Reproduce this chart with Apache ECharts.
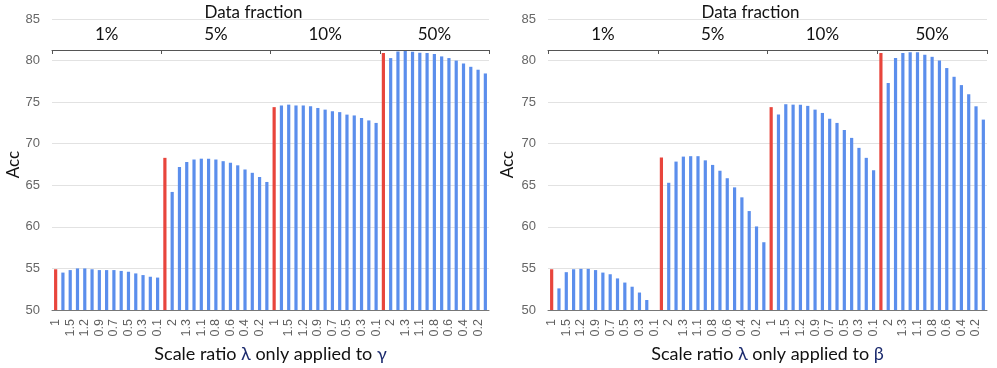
<!DOCTYPE html>
<html><head><meta charset="utf-8">
<script src="https://cdn.jsdelivr.net/npm/echarts@6/dist/echarts.min.js"></script>
<style>html,body{margin:0;padding:0;background:#fff}#c{width:997px;height:368px}</style>
</head><body><div id="c"></div>
<script>
// ---- data ----
const groups = ['1%', '5%', '10%', '50%'];
const ratios = ['1', '2', '1.5', '1.3', '1.2', '1.1', '0.9', '0.8', '0.7', '0.6', '0.5', '0.4', '0.3', '0.2', '0.1'];
const yTicks = [50, 55, 60, 65, 70, 75, 80, 85];

// left panel: lambda applied only to gamma
const gamma1 = [54.9, 54.5, 54.8, 55.0, 55.0, 54.9, 54.8, 54.8, 54.8, 54.7, 54.6, 54.4, 54.2, 54.0, 53.9];
const gamma5 = [68.3, 64.2, 67.2, 67.8, 68.1, 68.2, 68.2, 68.1, 67.9, 67.7, 67.4, 66.9, 66.5, 66.0, 65.4];
const gamma10 = [74.4, 74.6, 74.7, 74.6, 74.6, 74.5, 74.3, 74.1, 73.9, 73.8, 73.5, 73.4, 73.1, 72.8, 72.5];
const gamma50 = [80.9, 80.3, 81.1, 81.15, 81.05, 80.95, 80.9, 80.8, 80.5, 80.3, 80.0, 79.65, 79.25, 78.9, 78.45];

// right panel: lambda applied only to beta
const beta1 = [54.9, 52.6, 54.55, 54.9, 54.95, 54.95, 54.8, 54.5, 54.3, 53.8, 53.3, 52.8, 52.1, 51.2, null];
const beta5 = [68.35, 65.3, 67.85, 68.45, 68.5, 68.5, 68.0, 67.45, 66.75, 65.85, 64.75, 63.55, 61.9, 60.05, 58.15];
const beta10 = [74.4, 73.5, 74.75, 74.7, 74.7, 74.55, 74.1, 73.7, 73.0, 72.5, 71.65, 70.7, 69.5, 68.3, 66.8];
const beta50 = [80.9, 77.3, 80.3, 80.9, 81.0, 81.0, 80.7, 80.45, 80.0, 79.1, 78.05, 77.05, 75.95, 74.5, 72.9];

// ---- build ----
const BLUE = '#5b8eec', RED = '#e8453c';
const cats = [].concat(ratios, ratios, ratios, ratios);
function items(arrs) {
  const out = [];
  arrs.forEach(a => a.forEach((v, i) => out.push({ value: v, itemStyle: { color: i === 0 ? RED : BLUE } })));
  return out;
}
const leftData = items([gamma1, gamma5, gamma10, gamma50]);
const rightData = items([beta1, beta5, beta10, beta50]);

const FONT = 'Lato';
const panels = [
  { left: 52, width: 437, data: leftData, accGap: 29, name: 'Scale ratio {g|λ} only applied to {g|γ}' },
  { left: 548, width: 439, data: rightData, accGap: 32, name: 'Scale ratio {g|λ} only applied to {g|β}' }
];

const grid = [], xAxis = [], yAxis = [], series = [];
panels.forEach((p, k) => {
  grid.push({ left: p.left, width: p.width, top: 19, height: 295 });
  grid.push({ left: p.left, width: p.width, top: 50, height: 10 });
  const gi = k * 2;
  xAxis.push({
    type: 'category', gridIndex: gi, data: cats, boundaryGap: true,
    axisLine: { show: true, lineStyle: { color: '#777', width: 1 } },
    axisTick: { show: false },
    axisLabel: { interval: 1, rotate: 90, fontSize: 12.5, color: '#5f5f5f', margin: 9, fontFamily: 'Liberation Sans' },
    name: p.name, nameLocation: 'middle', nameGap: 35,
    nameTextStyle: { fontSize: 18, color: '#111', fontFamily: FONT, rich: { g: { fontSize: 18, color: '#1c2b6e', fontFamily: FONT } } }
  });
  yAxis.push({
    type: 'value', gridIndex: gi, min: 50, max: 85, interval: 5,
    axisLine: { show: false }, axisTick: { show: false },
    splitLine: { lineStyle: { color: '#e2e2e2' } },
    axisLabel: { fontSize: 13, color: '#666', margin: 12, fontFamily: 'Liberation Sans' },
    name: 'Acc', nameLocation: 'middle', nameGap: p.accGap,
    nameTextStyle: { fontSize: 17, color: '#111', fontFamily: FONT }
  });
  xAxis.push({
    type: 'category', gridIndex: gi + 1, data: groups, position: 'top', boundaryGap: true,
    axisLine: { show: true, onZero: false, lineStyle: { color: '#555', width: 1 } },
    axisTick: { show: true, inside: true, length: 4, lineStyle: { color: '#555' } },
    axisLabel: { fontSize: 17, color: '#111', margin: 7, fontFamily: FONT },
    name: 'Data fraction', nameLocation: 'middle', nameGap: 29,
    nameTextStyle: { fontSize: 17, color: '#111', fontFamily: FONT, padding: [0, 34, 0, 0] }
  });
  yAxis.push({ type: 'value', gridIndex: gi + 1, show: false, splitLine: { show: false } });
  series.push({
    type: 'bar', xAxisIndex: k * 2, yAxisIndex: k * 2, data: p.data,
    barWidth: 3.2, animation: false
  });
});

const chart = echarts.init(document.getElementById('c'));
chart.setOption({ animation: false, grid, xAxis, yAxis, series });
</script></body></html>
